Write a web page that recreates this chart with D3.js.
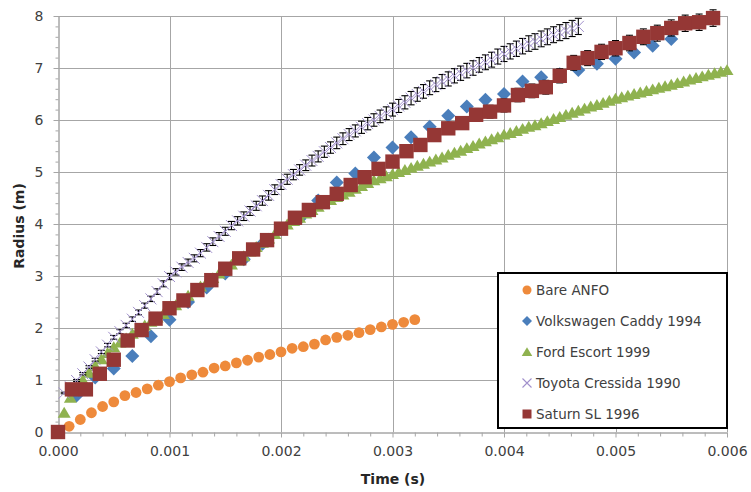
<!DOCTYPE html>
<html>
<head>
<meta charset="utf-8">
<script src="https://cdn.jsdelivr.net/npm/d3@7/dist/d3.min.js"></script>
<style>
  html, body { margin: 0; padding: 0; background: #fff; }
  svg { display: block; font-family: "DejaVu Sans", sans-serif; }
</style>
</head>
<body>
<svg id="chart" width="751" height="492"></svg>
<script>
// ---- Fireball radius vs time, measured from high-speed video frames ----

// Axis ticks
const xMajorTicks = [0, 0.001, 0.002, 0.003, 0.004, 0.005, 0.006];
const yMajorTicks = [0, 1, 2, 3, 4, 5, 6, 7, 8];

// Series names (legend order)
const seriesNames = ["Bare ANFO", "Volkswagen Caddy 1994", "Ford Escort 1999", "Toyota Cressida 1990", "Saturn SL 1996"];

// Frame interval of each recording (s); point i is at i * interval
const anfoFrame = 0.0001;
const caddyFrame = 1 / 6000;
const escortFrame = 1 / 18000;
const cressidaFrame = 1 / 18000;
const saturnFrame = 0.000125;
const cressidaStartFrame = 1;

// Radius (m)
const anfoRadius = [0, 0.11, 0.24, 0.37, 0.49, 0.58, 0.70, 0.76, 0.83, 0.90, 0.97, 1.04, 1.10, 1.15,
  1.23, 1.27, 1.33, 1.38, 1.44, 1.49, 1.54, 1.61, 1.64, 1.69, 1.77, 1.82, 1.86, 1.91, 1.97, 2.02,
  2.07, 2.11, 2.16];

const caddyRadius = [0, 0.70, 1.05, 1.22, 1.46, 1.84, 2.16, 2.50, 2.78, 3.05, 3.32, 3.62, 3.90,
  4.10, 4.45, 4.80, 4.97, 5.28, 5.47, 5.67, 5.87, 6.08, 6.26, 6.39, 6.50, 6.74, 6.82, 6.88, 6.96,
  7.08, 7.18, 7.30, 7.43, 7.56];

const escortRadius = [0, 0.37, 0.66, 0.85, 1.00, 1.14, 1.27, 1.40, 1.52, 1.63, 1.72, 1.80, 1.89,
  1.97, 2.05, 2.12, 2.20, 2.27, 2.35, 2.44, 2.53, 2.62, 2.71, 2.80, 2.88, 2.96, 3.05, 3.13, 3.22,
  3.30, 3.38, 3.47, 3.56, 3.64, 3.72, 3.81, 3.91, 3.99, 4.06, 4.12, 4.20, 4.27, 4.33, 4.40, 4.46,
  4.52, 4.57, 4.62, 4.68, 4.73, 4.79, 4.84, 4.88, 4.92, 4.96, 5.00, 5.04, 5.08, 5.12, 5.16, 5.20,
  5.24, 5.28, 5.33, 5.37, 5.41, 5.46, 5.50, 5.55, 5.59, 5.63, 5.67, 5.72, 5.75, 5.79, 5.83, 5.87,
  5.90, 5.94, 5.98, 6.02, 6.06, 6.10, 6.14, 6.18, 6.22, 6.26, 6.29, 6.33, 6.37, 6.41, 6.44, 6.47,
  6.50, 6.53, 6.56, 6.59, 6.62, 6.65, 6.68, 6.71, 6.74, 6.78, 6.81, 6.84, 6.87, 6.90, 6.93, 6.96];

const cressidaRadius = [0.75, 0.87, 0.99, 1.12, 1.25, 1.39, 1.54, 1.67, 1.82, 1.93, 2.05, 2.17,
  2.30, 2.43, 2.56, 2.70, 2.85, 2.99, 3.08, 3.17, 3.26, 3.34, 3.44, 3.55, 3.66, 3.76, 3.86, 3.97,
  4.06, 4.15, 4.25, 4.35, 4.45, 4.55, 4.66, 4.76, 4.86, 4.95, 5.04, 5.13, 5.22, 5.30, 5.39, 5.47,
  5.56, 5.64, 5.72, 5.79, 5.86, 5.93, 6.00, 6.07, 6.13, 6.20, 6.27, 6.34, 6.42, 6.49, 6.55, 6.62,
  6.68, 6.74, 6.79, 6.85, 6.90, 6.95, 7.00, 7.06, 7.11, 7.16, 7.22, 7.27, 7.32, 7.37, 7.42, 7.47,
  7.51, 7.56, 7.60, 7.64, 7.68, 7.72, 7.76, 7.80];

const saturnRadius = [0, 0.82, 0.82, 1.12, 1.39, 1.76, 1.96, 2.18, 2.38, 2.53, 2.73, 2.92, 3.14,
  3.34, 3.51, 3.69, 3.91, 4.12, 4.27, 4.42, 4.58, 4.75, 4.90, 5.06, 5.20, 5.40, 5.52, 5.71, 5.84,
  5.94, 6.10, 6.16, 6.28, 6.48, 6.56, 6.63, 6.85, 7.10, 7.19, 7.31, 7.38, 7.48, 7.60, 7.67, 7.77,
  7.86, 7.88, 7.96];

// Relative error shown on the two error-barred series
const relativeError = 0.02;

// ---- Drawing ----
const svg = d3.select("#chart");
const plot = { left: 58, right: 727, top: 16, bottom: 432 };

const x = d3.scaleLinear().domain([0, 0.006]).range([plot.left, plot.right]);
const y = d3.scaleLinear().domain([0, 8]).range([plot.bottom, plot.top]);

const gridColor = "#a6a6a6";
const textColor = "#404040";

// Gridlines
const grid = svg.append("g");
grid.selectAll("line.vx").data(xMajorTicks.slice(1)).join("line")
  .attr("x1", d => Math.round(x(d)) + 0.5).attr("x2", d => Math.round(x(d)) + 0.5)
  .attr("y1", plot.top).attr("y2", plot.bottom)
  .attr("stroke", gridColor).attr("stroke-width", 1);
grid.selectAll("line.hy").data(yMajorTicks.slice(1)).join("line")
  .attr("x1", plot.left).attr("x2", plot.right)
  .attr("y1", d => Math.round(y(d)) + 0.5).attr("y2", d => Math.round(y(d)) + 0.5)
  .attr("stroke", gridColor).attr("stroke-width", 1);

// Minor tick positions
const xMinor = d3.range(0, 31).map(i => i * 0.0002).filter((d, i) => i % 5 !== 0);
const yMinor = d3.range(0, 41).map(i => i * 0.2).filter((d, i) => i % 5 !== 0);

function styleAxis(g) {
  g.select(".domain").attr("stroke", gridColor);
  g.selectAll(".tick line").attr("stroke", gridColor);
  g.selectAll(".tick text").attr("fill", textColor).attr("font-size", 14)
    .attr("font-family", "DejaVu Sans, sans-serif");
}

// X axis
svg.append("g").attr("transform", `translate(0,${plot.bottom + 0.5})`)
  .call(d3.axisBottom(x).tickValues(xMinor).tickSize(4).tickFormat("").tickSizeOuter(0))
  .call(styleAxis);
svg.append("g").attr("transform", `translate(0,${plot.bottom + 0.5})`)
  .call(d3.axisBottom(x).tickValues(xMajorTicks).tickSize(5).tickPadding(9)
    .tickFormat(d3.format(".3f")).tickSizeOuter(0))
  .call(styleAxis);

// Y axis
svg.append("g").attr("transform", `translate(${plot.left + 0.5},0)`)
  .call(d3.axisLeft(y).tickValues(yMinor).tickSize(3).tickFormat("").tickSizeOuter(0))
  .call(styleAxis);
svg.append("g").attr("transform", `translate(${plot.left + 0.5},0)`)
  .call(d3.axisLeft(y).tickValues(yMajorTicks).tickSize(5).tickPadding(10)
    .tickFormat(d3.format("d")).tickSizeOuter(0))
  .call(styleAxis);

// Axis titles
svg.append("text").attr("x", 393).attr("y", 484).attr("text-anchor", "middle")
  .attr("font-size", 14).attr("font-weight", "bold").attr("fill", "#262626")
  .text("Time (s)");
svg.append("text").attr("transform", "translate(24,226) rotate(-90)").attr("text-anchor", "middle")
  .attr("font-size", 14).attr("font-weight", "bold").attr("fill", "#262626")
  .text("Radius (m)");

// Marker shapes (paths centred on the origin)
const shapes = {
  circle: r => `M${-r},0A${r},${r} 0 1,0 ${r},0A${r},${r} 0 1,0 ${-r},0Z`,
  diamond: r => `M0,${-r}L${r},0L0,${r}L${-r},0Z`,
  triangle: r => `M0,${-r}L${r * 1.1},${r * 0.85}L${-r * 1.1},${r * 0.85}Z`,
  square: r => `M${-r},${-r}H${r}V${r}H${-r}Z`,
  cross: r => `M${-r},${-r}L${r},${r}M${-r},${r}L${r},${-r}`
};

const series = [
  { name: seriesNames[0], radius: anfoRadius, frame: anfoFrame, start: 0, shape: "circle", size: 5.4, color: "#ee8a3b", err: false },
  { name: seriesNames[1], radius: caddyRadius, frame: caddyFrame, start: 0, shape: "diamond", size: 7, color: "#4a7ebb", err: false },
  { name: seriesNames[2], radius: escortRadius, frame: escortFrame, start: 0, shape: "triangle", size: 5.9, color: "#8fb24f", err: false },
  { name: seriesNames[3], radius: cressidaRadius, frame: cressidaFrame, start: cressidaStartFrame, shape: "cross", size: 5.5, color: "#a190cc", err: true },
  { name: seriesNames[4], radius: saturnRadius, frame: saturnFrame, start: 0, shape: "square", size: 7.2, color: "#953735", err: true }
];

series.forEach(s => {
  const pts = s.radius.map((r, i) => ({ t: (i + s.start) * s.frame, r }));
  const g = svg.append("g");
  if (s.err) {
    const eb = g.append("g").attr("stroke", "#000").attr("stroke-width", 1.1);
    pts.forEach(p => {
      const cx = x(p.t), e = p.r * relativeError;
      const y1 = y(p.r + e), y2 = y(p.r - e);
      eb.append("line").attr("x1", cx).attr("x2", cx).attr("y1", y1).attr("y2", y2);
      eb.append("line").attr("x1", cx - 3.5).attr("x2", cx + 3.5).attr("y1", y1).attr("y2", y1);
      eb.append("line").attr("x1", cx - 3.5).attr("x2", cx + 3.5).attr("y1", y2).attr("y2", y2);
    });
  }
  g.selectAll("path.m").data(pts).join("path")
    .attr("transform", p => `translate(${x(p.t)},${y(p.r)})`)
    .attr("d", shapes[s.shape](s.size))
    .attr("fill", s.shape === "cross" ? "none" : s.color)
    .attr("stroke", s.shape === "cross" ? s.color : "none")
    .attr("stroke-width", 1);
});

// Legend
const legend = svg.append("g");
legend.append("rect").attr("x", 498).attr("y", 273).attr("width", 229).attr("height", 155)
  .attr("fill", "#fff").attr("stroke", "#000").attr("stroke-width", 2);
const legendSizes = { circle: 4.5, diamond: 5, triangle: 4.8, square: 4.5, cross: 4.5 };
series.forEach((s, i) => {
  const ly = 290 + i * 31;
  legend.append("path")
    .attr("transform", `translate(527,${ly})`)
    .attr("d", shapes[s.shape](legendSizes[s.shape]))
    .attr("fill", s.shape === "cross" ? "none" : s.color)
    .attr("stroke", s.shape === "cross" ? s.color : "none")
    .attr("stroke-width", 1.1);
  legend.append("text").attr("x", 536).attr("y", ly).attr("dy", "0.36em")
    .attr("font-size", 13.5).attr("fill", textColor).text(s.name);
});
</script>
</body>
</html>
